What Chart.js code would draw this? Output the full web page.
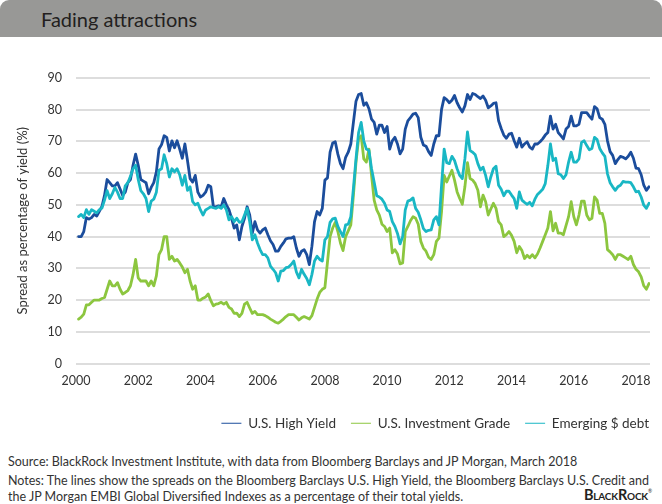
<!DOCTYPE html>
<html>
<head>
<meta charset="utf-8">
<script src="https://cdn.jsdelivr.net/npm/chart.js@4.4.0/dist/chart.umd.min.js"></script>
<style>
  html, body { margin: 0; padding: 0; background: #ffffff; }
  body { width: 662px; height: 504px; position: relative; overflow: hidden; font-family: Lato, "Open Sans", sans-serif; color: #333333; }
  #hdr { position: absolute; left: 0; top: 0; width: 662px; height: 37px; background: #989896; border-radius: 9px 9px 0 0; }
  #title { position: absolute; left: 41px; top: 7px; font-size: 20px; line-height: 24px; color: #231f20; white-space: nowrap; }
  #wrap { position: absolute; left: 0; top: 40px; width: 662px; height: 400px; }
  .note { position: absolute; left: 8px; font-size: 12.5px; line-height: 16px; color: #333333; white-space: nowrap; }
  #logo { position: absolute; right: 10px; top: 482px; font-size: 14.5px; font-weight: 700; font-variant: small-caps; color: #231f20; letter-spacing: -0.2px; line-height: 18px; }
  #logo sup { font-size: 5px; font-weight: 400; vertical-align: 7px; }
</style>
</head>
<body>
<div id="hdr"><div id="title">Fading attractions</div></div>
<div id="wrap"><canvas id="c" width="662" height="400"></canvas></div>
<div class="note" style="top:454px;">Source: BlackRock Investment Institute, with data from Bloomberg Barclays and JP Morgan, March 2018</div>
<div class="note" style="top:473px;">Notes: The lines show the spreads on the Bloomberg Barclays U.S. High Yield, the Bloomberg Barclays U.S. Credit and<br>the JP Morgan EMBI Global Diversified Indexes as a percentage of their total yields.</div>
<div id="logo">BlackRock<sup>®</sup></div>
<script>
const startYear = 2000;
const firstMonth = 1; // first observation: Feb 2000 (month index from Jan 2000)
const yTickValues = [0, 10, 20, 30, 40, 50, 60, 70, 80, 90];
const xTickYears = [2000, 2002, 2004, 2006, 2008, 2010, 2012, 2014, 2016, 2018];
const seriesNames = ['U.S. High Yield', 'U.S. Investment Grade', 'Emerging $ debt'];

const highYield = [
  40, 40, 41.6, 46, 45.5, 46, 47, 46.5, 48, 49.5, 53, 58, 57, 56, 56, 57, 55, 53, 54, 57, 58, 62.5, 66, 62.5, 58, 57.5,
  57, 53.5, 55.5, 57, 60.4, 67.6, 69, 71.8, 71.3, 67, 70.2, 68, 70.2, 67.6, 64.7, 69.2, 64, 58.3, 57.2, 59.3, 54, 52.5, 53, 54, 56.2, 55.7, 49.4, 49.4, 49.7, 49.4, 52, 50, 48.5,
  45.8, 42.7, 43.7, 39, 43.2, 45.8, 49.4, 46.8, 41.1, 44.7, 42.1, 41.1, 42.1, 42.7, 40.6, 38.7, 37.5, 35.4, 35.4, 36.9, 38, 39.3, 39.5, 39.5, 40, 36.4, 33.8, 35.4, 35.9, 34.3, 31.2, 37,
  44.7, 47.9, 46.8, 48.9, 57.8, 58.5, 66.6, 69.5, 69.9, 66, 63, 61.4, 65, 66.6, 69.2, 76, 82.7, 84.8, 85.1, 81.4, 82.2, 80.3, 77, 76, 72.3, 75.1, 75.1, 72.8, 74.7, 67.6, 70.2, 71.3, 69.2,
  66.1, 67.6, 73.9, 76.5, 77.5, 78.6, 78.9, 77.5, 71.3, 68.9, 68.5, 66.8, 65.6, 69.2, 71.8, 71.8, 80.1, 83.8, 83.2, 82.2, 83, 84.5, 82.2, 80.6, 79.3, 81.2, 84.8, 83.2, 85.1, 84.8, 84.1, 83.5,
  84.3, 83, 80.6, 81.2, 82, 82.2, 76.5, 74.1, 72, 71, 72.3, 72.6, 70.2, 68.2, 71, 68.2, 69.2, 69.9, 68.2, 67.6, 69.2, 69.2, 69.9, 70.8, 72, 72.8, 78, 73.9, 75.4, 72.8, 71.8, 70.8, 73.9,
  74.7, 78, 74.9, 74.9, 75.4, 79.1, 79.1, 79.1, 78, 77, 81, 80.3, 77.5, 77, 75.4, 70.2, 66.8, 65.6, 63, 64.3, 65.3, 65, 64.5, 65.3, 66.6, 64.7, 61.6, 61.4, 59.5, 56.2, 54.6, 55.7
];

const investmentGrade = [
  14, 14.6, 15.6, 18.5, 18.5, 19.3, 20, 20, 20, 20.5, 20.8, 23.4, 26, 24.5, 24.5, 25.5, 23.4, 21.9, 22.4, 23, 24.5, 28, 32.8, 27, 26, 26,
  26, 24.5, 26, 24.5, 27.6, 34.3, 35.9, 40, 40, 32.8, 33.8, 32.3, 32.8, 31.7, 30.4, 28.6, 29.7, 26, 23.4, 24.5, 20, 20, 20.6, 21, 21.9, 19.8, 18.2, 18.7, 18.9, 19.3, 18.7, 19.3, 17.7,
  17.2, 15.8, 15.9, 14.8, 15.8, 18.7, 19.3, 17.5, 15.8, 16.4, 15.4, 15.4, 15.4, 15.1, 14.6, 14, 13.5, 13, 12.7, 13.3, 14, 14.8, 15.4, 15.4, 15.4, 14.6, 13.7, 14.4, 14.8, 14.4, 14, 15.1,
  17.7, 20.3, 22.4, 23.4, 23.9, 32, 40, 42.7, 44.5, 41.6, 38, 35.6, 40, 41.8, 43.7, 53, 63.5, 70.8, 71.8, 64.5, 63.5, 67.6, 59.3, 51.5, 48.4, 46.8, 43.9, 43.2, 41.6, 42.7, 34.9, 35.9, 34.5,
  31.4, 31.7, 41.6, 43.2, 45, 46.3, 45.8, 43.9, 38.5, 36.4, 35.4, 33.5, 32.8, 34.3, 38.5, 39.5, 47.9, 59.3, 57.2, 59.1, 60.9, 57.8, 54.1, 52, 50.2, 55.7, 63.3, 58.3, 57.8, 56.7, 54.6, 49.4,
  53.1, 51, 46.8, 48.7, 50.5, 48.9, 44.7, 43.7, 40, 40.6, 41.6, 40.4, 38.5, 34.9, 36.9, 35.6, 33.1, 34.1, 33.3, 34.3, 33.3, 34.5, 36.4, 38.5, 40.6, 42.7, 47.9, 41.8, 44.2, 41.1, 41.1, 40.6, 43.5,
  46.3, 51, 46.3, 43.7, 46.8, 51.2, 51.2, 46.8, 45.3, 45.8, 52.5, 51.5, 47.3, 47.3, 44.2, 35.9, 35.2, 34.3, 32.8, 34.3, 34.3, 33.8, 33.3, 32.8, 33.8, 31.2, 29.7, 28.9, 27.3, 24.5, 23.4, 25.2
];

const emergingDebt = [
  46.3, 47, 46, 48.5, 47, 48.5, 48, 47.5, 48.5, 49, 51.5, 54.5, 52, 53.5, 55.5, 54, 52, 52, 56, 57, 59, 61.4, 62.5, 58, 54.5, 53.5,
  52, 47.9, 51.2, 51.8, 54, 60.9, 61.4, 65.8, 63, 58.8, 61.4, 60.4, 61.4, 59.5, 56.2, 59.3, 54.6, 55.7, 51, 50, 50.5, 48.4, 46.8, 48.4, 48.9, 49.4, 49.1, 48.9, 49.4, 48.9, 50, 48.4, 45.3,
  46.3, 44.7, 45.8, 44.5, 44.7, 46.8, 48.9, 44.7, 39, 40.6, 38, 35.9, 34.3, 34.3, 33.3, 30.7, 29.7, 28.6, 26, 29.1, 29.3, 30.2, 30.4, 31.2, 32.3, 28.9, 27, 29.7, 28.1, 26.8, 24.8, 28.1,
  32.3, 33.8, 32.8, 32.3, 39, 40, 44.5, 45.6, 45.8, 43.2, 41.6, 40, 43.7, 43.9, 46.3, 55.2, 64.5, 72.8, 76, 70.2, 67.6, 67.1, 61.4, 57.2, 52.9, 52.5, 51.8, 50.5, 48.4, 47.9, 44.7, 43.2, 41,
  37.7, 40, 48.4, 51.2, 51.5, 52.2, 48.9, 47.7, 45.3, 42.5, 41.6, 42, 42.1, 45.3, 46.3, 43.7, 56.2, 67.6, 63.3, 63, 65.3, 64, 61.4, 59.3, 58.3, 64.5, 73, 67.1, 66.6, 65.8, 63, 61,
  61.9, 59.3, 55.7, 58.8, 61.4, 62.2, 56.2, 54.9, 52.9, 54.3, 54.3, 53.1, 52, 48.9, 54.1, 51.5, 50.8, 50.2, 50.8, 49.7, 51.8, 53.3, 54.1, 54.9, 56.7, 62.4, 69.2, 64, 64.7, 59.8, 59.5, 58.3, 59.5,
  63.5, 66.6, 63.5, 63.5, 64.5, 69.7, 70.2, 68.7, 67.4, 67.8, 71.3, 70.6, 67.8, 66.4, 65.3, 59.8, 57, 55.7, 54.6, 55.7, 56.2, 57.4, 57.2, 57.2, 57, 55.7, 54.1, 54.3, 52.5, 49.9, 48.9, 50.5
];

const monthPositions = highYield.map((_, i) => startYear + (firstMonth + i) / 12);
const toPoints = (vals) => vals.map((v, i) => ({ x: monthPositions[i], y: v }));

const legendShift = {
  id: 'legendShift',
  afterLayout(chart) {
    const lg = chart.legend;
    if (lg) { lg.left += 14; lg.right += 14; }
  }
};

const tickFont = { family: 'Lato, "Open Sans", sans-serif', size: 12.5 };

new Chart(document.getElementById('c'), {
  type: 'line',
  data: {
    datasets: [
      { label: seriesNames[0], data: toPoints(highYield), borderColor: '#1b4d9c', backgroundColor: '#1b4d9c', order: 3 },
      { label: seriesNames[1], data: toPoints(investmentGrade), borderColor: '#8cc63f', backgroundColor: '#8cc63f', order: 2 },
      { label: seriesNames[2], data: toPoints(emergingDebt), borderColor: '#19b7c4', backgroundColor: '#19b7c4', order: 1 }
    ]
  },
  options: {
    responsive: false,
    animation: false,
    devicePixelRatio: 1,
    layout: { padding: { top: 38, right: 12, left: 0, bottom: 0 } },
    elements: {
      line: { borderWidth: 2.8, tension: 0, borderJoinStyle: 'round', borderCapStyle: 'round' },
      point: { radius: 0, hoverRadius: 0 }
    },
    plugins: {
      tooltip: { enabled: false },
      legend: {
        position: 'bottom',
        align: 'end',
        labels: {
          usePointStyle: true,
          pointStyle: 'line',
          pointStyleWidth: 20,
          padding: 15,
          color: '#333333',
          font: { family: 'Lato, "Open Sans", sans-serif', size: 13.5 },
          sort: (a, b) => a.datasetIndex - b.datasetIndex
        }
      }
    },
    scales: {
      x: {
        type: 'linear',
        min: startYear,
        max: 2018.45,
        afterBuildTicks: (s) => { s.ticks = xTickYears.map(v => ({ value: v })); },
        afterFit: (s) => { s.height = 38; },
        ticks: { callback: (v) => String(v), color: '#333333', font: tickFont, padding: 10, maxRotation: 0, autoSkip: false },
        grid: { display: false, drawTicks: false },
        border: { display: false }
      },
      y: {
        min: 0,
        max: 90,
        afterBuildTicks: (s) => { s.ticks = yTickValues.map(v => ({ value: v })); },
        afterFit: (s) => { s.width = 76; },
        ticks: { color: '#333333', font: tickFont, padding: 14 },
        grid: { color: '#dddddd', lineWidth: 2, drawTicks: false },
        border: { display: false },
        title: {
          display: true,
          text: 'Spread as percentage of yield (%)',
          color: '#333333',
          font: { family: 'Lato, "Open Sans", sans-serif', size: 13 },
          padding: { top: 15, bottom: 0 }
        }
      }
    }
  },
  plugins: [legendShift]
});
</script>
</body>
</html>
